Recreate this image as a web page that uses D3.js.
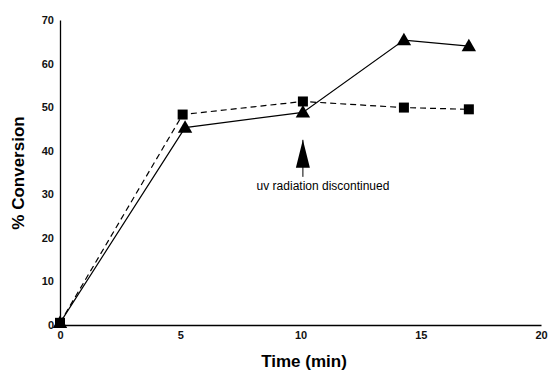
<!DOCTYPE html>
<html lang="en">
<head>
  <meta charset="utf-8">
  <script src="https://d3js.org/d3.v7.min.js"></script>
  <style>
    body { margin: 0; background: #fff; }
    text { font-family: "Liberation Sans", Arial, sans-serif; }
  </style>
</head>
<body>
  <svg id="chart" width="549" height="375"></svg>
  <script>
    // data
    const triTime = [0, 5.2, 10.1, 14.3, 17];
    const triConv = [0.5, 45.3, 48.8, 65.4, 64];
    const sqTime = [0, 5.1, 10.1, 14.3, 17];
    const sqConv = [0.5, 48.3, 51.3, 49.9, 49.5];
    const xTicks = [0, 5, 10, 15, 20];
    const yTicks = [0, 10, 20, 30, 40, 50, 60, 70];
    const arrowAt = { t: 10.1, from: 34, to: 42.5 };

    const svg = d3.select("svg#chart");
    const x = d3.scaleLinear().domain([0, 20]).range([60, 541]);
    const y = d3.scaleLinear().domain([0, 70]).range([325, 20]);

    // axes
    const xAxis = svg.append("g").attr("transform", "translate(0," + y(0) + ")")
      .call(d3.axisBottom(x).tickValues(xTicks).tickSize(0).tickPadding(6));
    const yAxis = svg.append("g").attr("transform", "translate(" + x(0) + ",0)")
      .call(d3.axisLeft(y).tickValues(yTicks).tickSize(0).tickPadding(6));
    [xAxis, yAxis].forEach(a => {
      a.select(".domain").attr("stroke", "#000").attr("stroke-width", 1.3);
      a.selectAll("text").attr("font-size", 11).attr("font-weight", "bold").attr("fill", "#111");
    });

    const line = d3.line().x(d => x(d[0])).y(d => y(d[1]));
    const tri = triTime.map((t, i) => [t, triConv[i]]);
    const sq = sqTime.map((t, i) => [t, sqConv[i]]);

    svg.append("path").datum(sq).attr("d", line)
      .attr("fill", "none").attr("stroke", "#000").attr("stroke-width", 1.2)
      .attr("stroke-dasharray", "6,4");
    svg.append("path").datum(tri).attr("d", line)
      .attr("fill", "none").attr("stroke", "#000").attr("stroke-width", 1.2);

    svg.selectAll("rect.sq").data(sq).join("rect").attr("class", "sq")
      .attr("x", d => x(d[0]) - 5).attr("y", d => y(d[1]) - 5)
      .attr("width", 10).attr("height", 10).attr("fill", "#000");

    svg.selectAll("path.tri").data(tri).join("path").attr("class", "tri")
      .attr("d", d3.symbol().type(d3.symbolTriangle).size(90))
      .attr("transform", d => "translate(" + x(d[0]) + "," + (y(d[1]) + 1) + ")")
      .attr("fill", "#000");

    // arrow annotation
    const ax = x(arrowAt.t);
    svg.append("line").attr("x1", ax).attr("x2", ax)
      .attr("y1", y(arrowAt.to)).attr("y2", y(arrowAt.from))
      .attr("stroke", "#000").attr("stroke-width", 1);
    svg.append("path")
      .attr("d", "M" + ax + "," + y(arrowAt.to) + "L" + (ax - 7) + "," + (y(arrowAt.to) + 28) + "L" + (ax + 7) + "," + (y(arrowAt.to) + 28) + "Z")
      .attr("fill", "#000");
    svg.append("text").attr("x", 323).attr("y", 190).attr("text-anchor", "middle")
      .attr("font-size", 12).text("uv radiation discontinued");

    // axis titles
    svg.append("text").attr("x", 304).attr("y", 367).attr("text-anchor", "middle")
      .attr("font-size", 17).attr("font-weight", "bold").text("Time (min)");
    svg.append("text").attr("transform", "translate(24,173) rotate(-90)")
      .attr("text-anchor", "middle").attr("font-size", 17).attr("font-weight", "bold")
      .text("% Conversion");
  </script>
</body>
</html>
